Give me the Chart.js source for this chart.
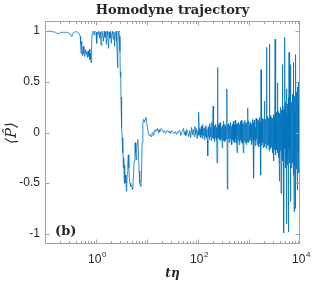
<!DOCTYPE html>
<html>
<head>
<meta charset="utf-8">
<script src="https://cdn.jsdelivr.net/npm/chart.js@4.4.1/dist/chart.umd.min.js"></script>
<style>
	html,body{margin:0;padding:0;background:#fff;}
	#grafica{display:block;}
</style>
</head>
<body>
<canvas id="grafica" width="332" height="284"></canvas>
<script>
// trajectory, [t*eta, <P>]
var TRAMO_INICIAL=[
	[0.1,1.0],[0.11,0.995],[0.12,1.0],[0.13,0.998],[0.14,0.995],[0.15,0.99],[0.16,0.99],[0.17,0.98],[0.18,0.975],[0.19,0.98],
	[0.2,0.985],[0.22,0.99],[0.24,0.985],[0.26,0.99],[0.28,0.985],[0.3,0.975],[0.32,0.965],[0.335,0.945],[0.345,0.96],[0.36,0.985],
	[0.38,0.99],[0.4,0.995],[0.43,0.99],[0.46,0.98],[0.49,0.95],[0.5,0.87],[0.51,0.78],[0.52,0.9],[0.53,0.82],[0.55,0.76],
	[0.56,0.85],[0.58,0.78],[0.6,0.75],[0.62,0.82],[0.64,0.77],[0.66,0.8],[0.68,0.74],[0.7,0.8],[0.72,0.75],[0.74,0.82],
	[0.76,0.72],[0.78,0.78],[0.8,0.69],[0.82,0.85],[0.84,0.97],[0.87,1.0],[0.9,0.99],[0.93,0.96],[0.96,1.0],[1.0,0.99],
	[1.03,0.88],[1.06,0.99],[1.1,0.97],[1.14,1.0],[1.18,0.93],[1.22,0.99],[1.26,0.86],[1.3,1.0],[1.35,0.97],[1.4,0.9],
	[1.45,1.0],[1.5,0.94],[1.55,0.99],[1.6,0.87],[1.65,1.0],[1.7,0.96],[1.76,0.83],[1.82,0.99],[1.88,0.93],[1.94,1.0],
	[2.0,0.88],[2.06,0.98],[2.12,1.0],[2.18,0.92],[2.25,0.99],[2.32,0.85],[2.4,0.98],[2.48,1.0],[2.55,0.9],[2.62,0.72],
	[2.66,0.64],[2.7,0.85],[2.76,1.0],[2.82,0.99],[2.88,0.95],[2.95,0.8],[3.0,0.55],[3.05,0.6],[3.1,0.3],[3.15,0.35],
	[3.2,0.05],[3.26,-0.05],[3.32,-0.2],[3.38,-0.12],[3.44,-0.35],[3.5,-0.25],[3.56,-0.45],[3.62,-0.32],[3.7,-0.5],[3.78,-0.42],
	[3.86,-0.5],[3.94,-0.58],[4.0,-0.55],[4.1,-0.4],[4.2,-0.3],[4.3,-0.22],[4.4,-0.35],[4.5,-0.45],[4.65,-0.5],[4.8,-0.53],
	[4.95,-0.52],[5.1,-0.55],[5.25,-0.56],[5.4,-0.45],[5.6,-0.28],[5.8,-0.12],[5.9,-0.1],[6.0,-0.2],[6.15,-0.27],[6.3,-0.15],
	[6.45,-0.1],[6.6,-0.07],[6.8,-0.2],[7.0,-0.38],[7.2,-0.5],[7.4,-0.52],[7.6,-0.53],[7.8,-0.45],[8.0,-0.1],[8.3,0.1],
	[8.6,0.13],[8.9,0.1],[9.2,0.13],[9.5,0.15],[9.8,0.1],[10.2,0.05],[10.6,0.0],[11,-0.03],[11.5,-0.02],[12,-0.04],
	[12.5,-0.01],[13,0.0],[13.5,-0.03],[14,0.02],[14.5,0.01],[15,0.03],[15.5,0.02],[16,0.04],[16.5,0.02],[17,0.0],
	[17.5,0.03],[18,0.01],[19,0.04],[20,0.02],[21,0.0],[22,0.02],[23,-0.01],[24,0.0],[25,0.02],[26,0.01],
	[27,0.0],[28,0.01],[29,-0.01],[30,0.02],[32,0.0],[34,-0.01],[36,0.01],[38,-0.02],[40,0.01],[42,0.0],
	[44,0.02],[46,-0.03],[48,0.0],[50,0.02],[52,0.04],[54,-0.02],[56,0.01],[58,-0.03],[60,0.03],[63,0.0],
	[66,-0.04],[69,0.02],[72,-0.05],[75,0.05],[78,-0.02],[81,0.03],[84,-0.04],[87,0.06],[90,-0.02],[93,0.04],[96,-0.06]
];
var TRAMO_MEDIO=[
	[100,0.02],[102,-0.03],[104,0.2],[106,-0.02],[108,0.04],[110,-0.04],[112,0.03],[114,-0.05],[116,0.06],[118,-0.02],
	[120,0.05],[122,-0.06],[125,0.08],[128,-0.03],[131,0.04],[134,-0.07],[137,0.05],[140,-0.04],[143,0.07],[146,-0.05],
	[149,0.03],[152,-0.08],[155,-0.23],[158,0.05],[161,-0.04],[164,0.06],[167,-0.07],[170,0.09],[174,-0.04],[178,0.05],
	[182,-0.08],[186,0.1],[190,-0.05],[194,0.06],[198,0.26],[202,-0.06],[206,0.05],[210,-0.09],[214,0.07],[218,-0.05],
	[222,0.08],[226,-0.07],[231,0.05],[236,-0.3],[241,0.64],[246,-0.06],[251,0.07],[256,-0.05],[261,0.09],[266,-0.07],
	[271,0.06],[276,-0.08],[281,0.1],[287,-0.06],[293,0.05],[299,-0.15],[305,0.07],[311,-0.08],[317,0.11],[324,-0.05],
	[331,0.08],[338,-0.09],[345,0.06],[352,-0.07],[360,0.1],[368,0.43],[376,-0.56],[384,0.08],[392,-0.06],[400,0.09],
	[408,-0.1],[417,0.07],[426,-0.06],[435,0.1],[444,-0.08],[453,0.06],[463,-0.12],[473,0.08],[483,-0.07],[493,0.11],
	[504,-0.09],[515,0.07],[526,-0.1],[537,0.12],[549,-0.06],[561,0.08],[573,-0.1],[585,-0.2],[598,0.09],[611,-0.07],
	[624,0.1],[638,-0.12],[652,0.08],[666,-0.09],[681,0.11],[696,-0.07],[711,0.12],[727,-0.1],[743,0.08],[759,-0.11],
	[776,-0.2],[793,0.1],[810,-0.08],[828,0.12],[846,-0.1],[865,0.09],[884,-0.12],[903,0.1],[923,-0.09],[943,0.24],
	[964,-0.1],[985,0.11]
];
var TRAMO_FINAL=[
	[1020,0.06],[1040,-0.08],[1060,0.1],[1080,-0.05],[1100,0.08],[1120,-0.12],[1140,0.04],[1160,-0.08],[1180,0.13],[1200,-0.06],
	[1220,0.09],[1240,-0.45],[1260,0.12],[1280,-0.07],[1300,0.1],[1320,-0.13],[1340,0.05],[1360,-0.09],[1380,0.14],[1400,-0.06],
	[1420,0.11],[1440,-0.12],[1460,0.08],[1480,-0.1],[1500,0.13],[1520,-0.07],[1540,0.12],[1560,-0.14],[1580,0.06],[1600,-0.11],
	[1620,0.15],[1640,-0.08],[1660,0.1],[1680,-0.12],[1700,-0.42],[1720,0.62],[1740,-0.1],[1760,0.12],[1780,-0.13],[1800,0.09],
	[1820,-0.1],[1840,0.14],[1860,-0.08],[1880,0.11],[1900,-0.15],[1920,0.07],[1940,-0.12],[1960,0.13],[1980,-0.09],[2000,0.31],
	[2025,-0.14],[2050,0.1],[2075,-0.08],[2100,0.13],[2125,-0.11],[2150,0.07],[2175,-0.15],[2200,0.84],[2225,-0.16],[2250,0.09],
	[2275,-0.1],[2300,0.12],[2325,-0.13],[2350,0.16],[2375,-0.07],[2400,0.1],[2425,-0.12],[2450,0.14],[2475,-0.18],[2500,0.08],
	[2525,-0.1],[2550,0.87],[2575,-0.15],[2600,0.13],[2625,-0.09],[2650,0.11],[2675,-0.16],[2700,0.17],[2725,-0.1],[2750,0.12],
	[2775,-0.14],[2800,0.15],[2825,-0.08],[2850,0.1],[2875,-0.2],[2900,0.14],[2925,-0.12],[2950,0.09],[2975,-0.15],[3000,0.18],
	[3025,-0.1],[3050,0.12],[3075,-0.28],[3100,0.16],[3125,-0.13],[3150,0.1],[3175,-0.17],[3200,0.14],[3225,-0.12],[3250,0.92],
	[3275,-0.18],[3300,0.13],[3325,-0.1],[3350,0.15],[3375,-0.22],[3400,0.11],[3425,-0.14],[3450,0.2],[3475,-0.12],[3500,0.16],
	[3525,-0.17],[3550,0.12],[3575,-0.15],[3600,0.49],[3625,-0.2],[3650,0.14],[3675,-0.12],[3700,0.18],[3725,-0.16],[3750,0.13],
	[3775,-0.25],[3800,0.17],[3825,-0.14],[3850,0.21],[3875,-0.15],[3900,0.12],[3925,-0.48],[3950,0.19],[3975,-0.13],[4000,0.16],
	[4050,-0.22],[4100,0.14],[4150,-0.18],[4200,0.25],[4250,-0.6],[4300,0.22],[4350,-0.15],[4400,0.18],[4450,-0.24],[4500,0.3],
	[4550,0.67],[4600,-0.28],[4650,0.17],[4700,-0.2],[4750,0.23],[4800,-0.3],[4850,-0.99],[4900,0.26],[4950,-0.16],[5000,0.2],
	[5050,0.94],[5100,-0.27],[5150,0.15],[5200,-0.22],[5250,0.3],[5300,-0.35],[5350,0.18],[5400,-0.9],[5450,0.22],[5500,0.43],
	[5550,-0.3],[5600,0.16],[5650,-0.2],[5700,0.28],[5750,-0.32],[5800,0.2],[5850,-0.18],[5900,0.35],[5950,-0.98],[6000,0.22],
	[6050,-0.15],[6100,0.79],[6150,-0.3],[6200,0.2],[6250,-0.22],[6300,0.33],[6350,-0.18],[6400,0.24],[6450,-0.4],[6500,0.2],
	[6550,0.67],[6600,-0.68],[6650,0.25],[6700,-0.2],[6750,0.3],[6800,-0.25],[6850,0.18],[6900,-0.35],[6950,0.26],[7000,-0.2],
	[7050,0.38],[7100,-0.3],[7150,0.22],[7200,-0.18],[7250,0.34],[7300,-0.25],[7350,0.2],[7400,-0.42],[7450,0.25],[7500,0.69],
	[7550,-0.2],[7600,0.22],[7650,-0.78],[7700,0.28],[7750,-0.22],[7800,0.36],[7850,-0.2],[7900,0.25],[7950,-0.33],[8000,0.2],
	[8050,0.43],[8100,-0.25],[8150,0.22],[8200,-0.75],[8250,0.3],[8300,0.77],[8350,-0.22],[8400,0.24],[8450,-0.36],[8500,0.2],
	[8550,-0.25],[8600,0.4],[8650,-0.2],[8700,0.28],[8750,-0.35],[8800,0.22],[8850,-0.28],[8900,0.45],[8950,-0.2],[9000,0.25],
	[9050,-0.57],[9100,0.3],[9150,-0.22],[9200,0.38],[9250,-0.26],[9300,0.22],[9350,-0.4],[9400,0.3],[9450,-0.25],[9500,0.5],
	[9550,-0.2],[9600,0.28],[9650,-0.3],[9700,0.67],[9750,-0.25],[9800,0.3],[9850,-0.45],[9900,0.25],[9950,-0.3],[10000,-0.98]
];
var TICKS_Y=[-1,-0.5,0,0.5,1];
var TICKS_X=[1,100,10000];
var EXPONENTES_X=['0','2','4'];
var TITULO='Homodyne trajectory';

var COLOR_EJE='#a3a3a3';
var COLOR_TEXTO='#262626';
var FUENTE_TICKS="12px 'Liberation Sans', Arial, sans-serif";

var datos=new Array();
[TRAMO_INICIAL,TRAMO_MEDIO,TRAMO_FINAL].forEach(function(tramo){
	for (var i = 0; i < tramo.length; i++){
		datos.push({x:tramo[i][0],y:tramo[i][1]});
	}
});

// box, inward ticks, labels MATLAB style
var marco={
	id:'marco',
	afterDatasetsDraw:function(chart){
		var ctx=chart.ctx;
		var a=chart.chartArea;
		var sx=chart.scales.x;
		var sy=chart.scales.y;
		var L=Math.round(a.left)+0.5, R=Math.round(a.right)-0.5, T=Math.round(a.top)+0.5, B=Math.round(a.bottom)-0.5;
		ctx.save();
		ctx.strokeStyle=COLOR_EJE;
		ctx.lineWidth=1;
		ctx.strokeRect(L,T,R-L,B-T);
		ctx.beginPath();
		for (var d = -1; d <= 3; d++){
			for (var k = 1; k <= 9; k++){
				var v=k*Math.pow(10,d);
				var px=Math.round(sx.getPixelForValue(v))+0.5;
				var len=(k==1)?4:2.5;
				ctx.moveTo(px,B);ctx.lineTo(px,B-len);
				ctx.moveTo(px,T);ctx.lineTo(px,T+len);
			}
		}
		for (var i = 0; i < TICKS_Y.length; i++){
			var py=Math.round(sy.getPixelForValue(TICKS_Y[i]))+0.5;
			ctx.moveTo(L,py);ctx.lineTo(L+4,py);
			ctx.moveTo(R,py);ctx.lineTo(R-4,py);
		}
		ctx.stroke();

		ctx.fillStyle=COLOR_TEXTO;
		ctx.textBaseline='alphabetic';
		for (var i = 0; i < TICKS_X.length; i++){
			var px=sx.getPixelForValue(TICKS_X[i]);
			ctx.font=FUENTE_TICKS;
			var wb=ctx.measureText('10').width;
			ctx.font="8px 'Liberation Sans', Arial, sans-serif";
			var we=ctx.measureText(EXPONENTES_X[i]).width;
			var x0=px-(wb+we)/2+1;
			ctx.font=FUENTE_TICKS;
			ctx.textAlign='left';
			ctx.fillText('10',x0,263);
			ctx.font="8px 'Liberation Sans', Arial, sans-serif";
			ctx.fillText(EXPONENTES_X[i],x0+wb+0.5,257);
		}

		ctx.textAlign='center';
		ctx.font="bold 13px 'DejaVu Serif', serif";
		ctx.fillText(TITULO,(a.left+a.right)/2,14);

		ctx.font="bold italic 12px 'DejaVu Serif', serif";
		ctx.fillText('t\u03B7',(a.left+a.right)/2,277);

		ctx.textAlign='left';
		ctx.font="bold 13px 'DejaVu Serif', serif";
		ctx.fillText('(b)',55,235);

		ctx.save();
		ctx.translate(12,133);
		ctx.rotate(-Math.PI/2);
		ctx.textAlign='center';
		ctx.textBaseline='middle';
		ctx.font="italic 15px 'DejaVu Serif', serif";
		ctx.fillText('\u27E8P\u0302\u27E9',0,0);
		ctx.restore();
		ctx.restore();
	}
};

var config={
	type:'line',
	data:{
		datasets:[{
			data:datos,
			borderColor:'#0072BD',
			borderWidth:0.8,
			pointRadius:0,
			tension:0,
			fill:false
		}]
	},
	options:{
		responsive:false,
		animation:false,
		devicePixelRatio:1,
		layout:{padding:{top:21,right:32,left:0,bottom:0}},
		plugins:{legend:{display:false},tooltip:{enabled:false},title:{display:false}},
		scales:{
			x:{
				type:'logarithmic',
				min:0.1,
				max:10000,
				grid:{display:false},
				border:{display:false},
				ticks:{display:false},
				afterFit:function(s){ s.height=40; }
			},
			y:{
				min:-1.1,
				max:1.1,
				grid:{display:false,drawTicks:false},
				border:{display:false},
				afterBuildTicks:function(s){ s.ticks=TICKS_Y.map(function(v){ return {value:v}; }); },
				ticks:{
					padding:5,
					color:COLOR_TEXTO,
					font:{family:"'Liberation Sans', Arial, sans-serif",size:12},
					callback:function(v){ return String(v); }
				},
				afterFit:function(s){ s.width=45; }
			}
		}
	},
	plugins:[marco]
};

new Chart(document.getElementById('grafica').getContext('2d'),config);
</script>
</body>
</html>
